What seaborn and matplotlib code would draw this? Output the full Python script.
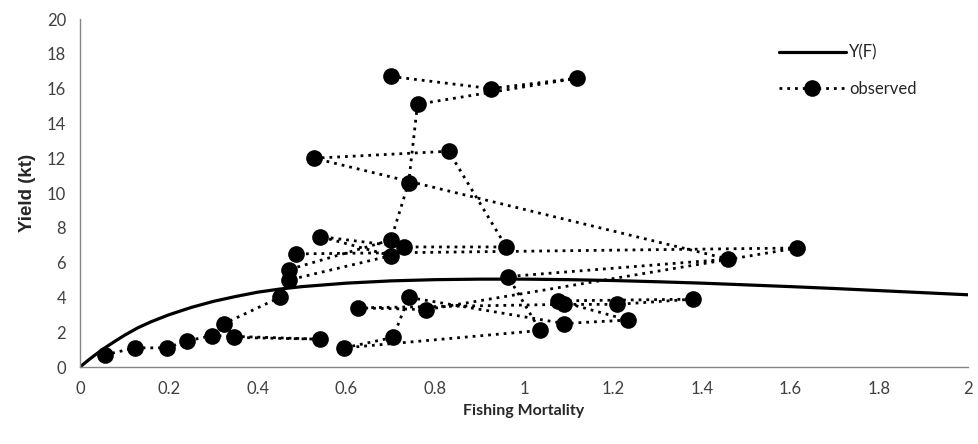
import numpy as np
import pandas as pd
import seaborn as sns
import matplotlib.pyplot as plt

# Y(F) curve
curve_f = [0, 0.02, 0.05, 0.08, 0.1, 0.13, 0.16, 0.2, 0.25, 0.3, 0.35, 0.4, 0.45,
           0.5, 0.6, 0.7, 0.8, 0.9, 1.0, 1.1, 1.2, 1.3, 1.4, 1.5, 1.6, 1.7,
           1.8, 1.9, 2.0]
curve_y = [0, 0.42, 1.0, 1.5, 1.82, 2.25, 2.6, 3.0, 3.42, 3.77, 4.05, 4.3, 4.48,
           4.62, 4.82, 4.95, 5.02, 5.05, 5.05, 5.02, 4.97, 4.9, 4.82, 4.72, 4.62, 4.51,
           4.39, 4.27, 4.15]

# observed fishing mortality / yield, in the order they are joined
obs_f = [0.70, 0.925, 1.12, 0.76, 0.74, 0.70, 0.47, 0.487, 1.615, 0.78, 0.626,
         1.09, 1.21, 1.38, 1.077, 1.234, 1.09, 0.74, 0.705, 0.595, 1.036, 0.964,
         1.46, 0.527, 0.83, 0.96, 0.73, 0.54, 0.70, 0.47, 0.45, 0.325, 0.347,
         0.54, 0.297, 0.24, 0.196, 0.124, 0.056]
obs_y = [16.7, 16.0, 16.6, 15.1, 10.6, 7.3, 5.6, 6.5, 6.84, 3.3, 3.4,
         3.6, 3.6, 3.9, 3.8, 2.7, 2.5, 4.0, 1.7, 1.1, 2.1, 5.2,
         6.2, 12.0, 12.4, 6.9, 6.9, 7.5, 6.4, 5.0, 4.0, 2.5, 1.7,
         1.6, 1.8, 1.5, 1.1, 1.1, 0.7]

curve = pd.DataFrame({"F": curve_f, "Y": curve_y})
obs = pd.DataFrame({"F": obs_f, "Y": obs_y})

sns.set_style("white")
plt.rcParams["font.family"] = ["Lato", "DejaVu Sans"]

fig = plt.figure(figsize=(9.79, 4.44), dpi=100)
ax = fig.add_axes([0.0817, 0.1734, 0.9073, 0.7838])

sns.lineplot(data=curve, x="F", y="Y", ax=ax, color="black", linewidth=2.3,
             sort=False, estimator=None, label="Y(F)")
sns.lineplot(data=obs, x="F", y="Y", ax=ax, color="black", linewidth=2.0,
             linestyle=(0, (1, 1.8)), marker="o", markersize=12,
             markeredgewidth=0, sort=False, estimator=None, label="observed")

ax.set_xlim(0, 2)
ax.set_ylim(0, 20)
ax.set_xticks(np.arange(0, 2.01, 0.2))
ax.set_xticklabels(["0", "0.2", "0.4", "0.6", "0.8", "1", "1.2", "1.4", "1.6", "1.8", "2"])
ax.set_yticks(range(0, 21, 2))
ax.tick_params(length=0, labelsize=12, colors="#404040")
ax.tick_params(axis="x", pad=10)
ax.tick_params(axis="y", pad=10)
for side in ["top", "right"]:
    ax.spines[side].set_visible(False)
for side in ["left", "bottom"]:
    ax.spines[side].set_color("#868686")
    ax.spines[side].set_linewidth(1)

ax.set_xlabel("Fishing Mortality", fontsize=11.5, fontweight="bold", labelpad=5)
ax.set_ylabel("Yield (kt)", fontsize=13.5, fontweight="bold", labelpad=8,
              family=["Liberation Sans", "DejaVu Sans"])

ax.legend(loc="upper left", bbox_to_anchor=(0.77, 0.97), frameon=False,
          fontsize=12, handlelength=4, labelspacing=1.2, handletextpad=0.2)

fig.savefig("out.png", dpi=100)
